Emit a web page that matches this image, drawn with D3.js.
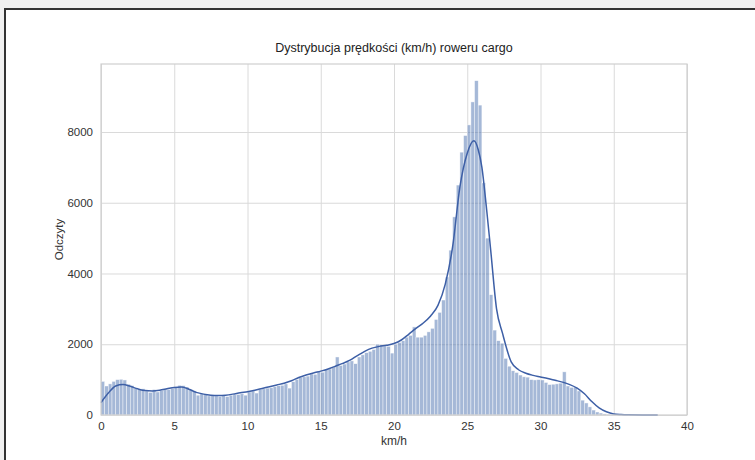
<!DOCTYPE html>
<html>
<head>
<meta charset="utf-8">
<script src="https://cdn.jsdelivr.net/npm/d3@7"></script>
<style>
  body { margin: 0; background: #f0f0f0; }
  svg { display: block; font-family: "Liberation Sans", Arial, sans-serif; }
</style>
</head>
<body>
<div class="chart"></div>
<script>
const binWidth = 0.25
const binStarts = d3.range(0, 37, binWidth)
const counts = [
  950, 820, 880, 950, 1000, 1010, 990, 870,      // 0 - 2
  830, 760, 720, 740, 680, 640, 720, 650,        // 2 - 4
  700, 730, 720, 750, 780, 840, 830, 790,        // 4 - 6
  720, 680, 560, 600, 580, 540, 560, 540,        // 6 - 8
  520, 560, 520, 560, 570, 580, 600, 560,        // 8 - 10
  650, 680, 620, 720, 740, 760, 770, 800,        // 10 - 12
  830, 840, 880, 760, 940, 1000, 1060, 1080,     // 12 - 14
  1100, 1160, 1150, 1230, 1210, 1280, 1300, 1350, // 14 - 16
  1640, 1400, 1440, 1500, 1530, 1450, 1640, 1700, // 16 - 18
  1760, 1800, 1850, 2000, 1980, 1950, 1940, 1750, // 18 - 20
  2000, 2050, 2100, 2200, 2250, 2490, 2200, 2200, // 20 - 22
  2250, 2350, 2450, 2700, 2900, 3250, 3900, 4660, // 22 - 24
  5600, 6500, 7430, 7900, 8200, 8850, 9450, 8760, // 24 - 26
  6560, 5000, 3400, 2400, 2100, 2030, 1600, 1380, // 26 - 28
  1250, 1200, 1130, 1080, 1070, 1000, 990, 1000,  // 28 - 30
  990, 920, 860, 870, 880, 900, 1220, 820,        // 30 - 32
  780, 790, 680, 420, 340, 230, 140, 85,          // 32 - 34
  55, 30, 18, 10, 6, 4, 3, 2,                     // 34 - 36
  1, 1, 0, 0                                      // 36 - 37
]

// kde line points
const kdeX = [0, 0.5, 1, 1.5, 2, 2.5, 3, 3.5, 4, 4.5, 5, 5.5, 6, 6.5, 7, 7.5, 8, 8.5, 9, 9.5,
  10, 10.5, 11, 11.5, 12, 12.5, 13, 13.5, 14, 14.5, 15, 15.5, 16, 16.5, 17, 17.5, 18, 18.5, 19, 19.5,
  20, 20.5, 21, 21.5, 22, 22.5, 23, 23.5, 24, 24.5, 25, 25.45, 25.75, 26, 26.3, 26.6, 27, 27.4, 28, 28.5,
  29, 29.5, 30, 30.5, 31, 31.5, 32, 32.5, 33, 33.5, 34, 34.5, 35, 35.5, 36, 37, 38]
const kdeY = [350, 620, 820, 860, 810, 740, 690, 680, 700, 740, 780, 790, 730, 640, 590, 560, 550, 560, 590, 630,
  660, 700, 750, 800, 850, 900, 970, 1060, 1130, 1190, 1240, 1300, 1380, 1460, 1550, 1680, 1800, 1890, 1940, 1970,
  2020, 2120, 2280, 2450, 2600, 2800, 3100, 3700, 4750, 6450, 7400, 7750, 7500, 7000, 5900, 4660, 3000, 2320, 1500, 1280,
  1180, 1120, 1075, 1030, 980, 930, 860, 760, 600, 380, 200, 90, 30, 12, 5, 1, 0]

const xTicks = [0, 5, 10, 15, 20, 25, 30, 35, 40]
const yTicks = [0, 2000, 4000, 6000, 8000]

const title = "Dystrybucja prędkości (km/h) roweru cargo"
const xLabel = "km/h"
const yLabel = "Odczyty"

let width = 755
let height = 460
let plot = { left: 101, right: 687, top: 64, bottom: 415 }

let svg = d3.select(".chart")
.append("svg")
.attr("width", width)
.attr("height", height)

// outer frame
svg.append("rect")
.attr("width", width)
.attr("height", height)
.attr("fill", "#f0f0f0")

svg.append("rect")
.attr("x", 5)
.attr("y", 9)
.attr("width", width + 10)
.attr("height", height + 10)
.attr("fill", "#fff")
.attr("stroke", "#333")
.attr("stroke-width", 2)

let x = d3.scaleLinear()
.domain([0, 40])
.range([plot.left, plot.right])

let y = d3.scaleLinear()
.domain([0, 9922])
.range([plot.bottom, plot.top])

// grid
svg.append("g")
.attr("transform", `translate(0,${plot.bottom})`)
.call(d3.axisBottom(x).tickValues(xTicks).tickSize(-(plot.bottom - plot.top)).tickFormat(""))
.call(g => g.select(".domain").remove())
.call(g => g.selectAll("line").attr("stroke", "#dadada").attr("stroke-width", 1))

svg.append("g")
.attr("transform", `translate(${plot.left},0)`)
.call(d3.axisLeft(y).tickValues(yTicks).tickSize(-(plot.right - plot.left)).tickFormat(""))
.call(g => g.select(".domain").remove())
.call(g => g.selectAll("line").attr("stroke", "#dadada").attr("stroke-width", 1))

// bars
svg.append("g")
.selectAll("rect")
.data(binStarts.map((b, i) => ({ x0: b, n: counts[i] || 0 })))
.enter()
.append("rect")
.attr("x", d => x(d.x0))
.attr("y", d => y(d.n))
.attr("width", d => x(d.x0 + binWidth) - x(d.x0))
.attr("height", d => y(0) - y(d.n))
.attr("fill", "rgba(76,114,176,0.5)")
.attr("stroke", "rgba(255,255,255,0.7)")
.attr("stroke-width", 0.6)

// kde
let line = d3.line()
.x(d => x(d[0]))
.y(d => y(d[1]))
.curve(d3.curveMonotoneX)

svg.append("path")
.datum(kdeX.map((v, i) => [v, kdeY[i]]))
.attr("d", line)
.attr("fill", "none")
.attr("stroke", "#3d5fa6")
.attr("stroke-width", 1.5)

// spines
svg.append("rect")
.attr("x", plot.left)
.attr("y", plot.top)
.attr("width", plot.right - plot.left)
.attr("height", plot.bottom - plot.top)
.attr("fill", "none")
.attr("stroke", "#cfcfcf")
.attr("stroke-width", 1.2)

// tick labels
let xAxis = svg.append("g")
.attr("transform", `translate(0,${plot.bottom})`)
.call(d3.axisBottom(x).tickValues(xTicks).tickSize(0).tickPadding(7))
xAxis.select(".domain").remove()
xAxis.selectAll("text").attr("fill", "#333").style("font-size", "11.5px")

let yAxis = svg.append("g")
.attr("transform", `translate(${plot.left},0)`)
.call(d3.axisLeft(y).tickValues(yTicks).tickSize(0).tickPadding(8).tickFormat(d3.format("d")))
yAxis.select(".domain").remove()
yAxis.selectAll("text").attr("fill", "#333").style("font-size", "11.5px")

svg.append("text")
.attr("x", (plot.left + plot.right) / 2)
.attr("y", 52)
.attr("text-anchor", "middle")
.attr("fill", "#222")
.style("font-size", "12.5px")
.text(title)

svg.append("text")
.attr("x", (plot.left + plot.right) / 2)
.attr("y", 445)
.attr("text-anchor", "middle")
.attr("fill", "#333")
.style("font-size", "12px")
.text(xLabel)

svg.append("text")
.attr("transform", `translate(63,${(plot.top + plot.bottom) / 2}) rotate(-90)`)
.attr("text-anchor", "middle")
.attr("fill", "#333")
.style("font-size", "11.5px")
.text(yLabel)
</script>
</body>
</html>
